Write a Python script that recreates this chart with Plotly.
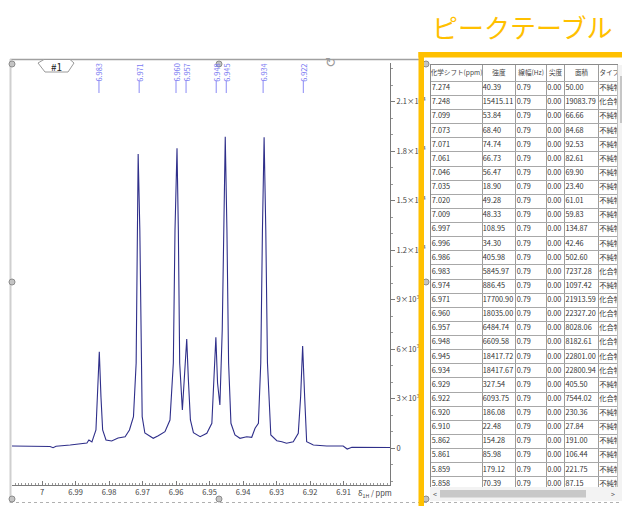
import plotly.graph_objects as go

# ---------------- data ----------------
spec_ppm = [7.0090, 7.0036, 6.9976, 6.9967, 6.9958, 6.9916, 6.9866, 6.9860, 6.9851, 6.9839,
            6.9834, 6.9829, 6.9824, 6.9819, 6.9809, 6.9792, 6.9773, 6.9752, 6.9739, 6.9727,
            6.9719, 6.9716, 6.9713, 6.9708, 6.9704, 6.9701, 6.9693, 6.9668, 6.9653, 6.9633,
            6.9618, 6.9608, 6.9603, 6.9597, 6.9593, 6.9589, 6.9581, 6.9575, 6.9568, 6.9563,
            6.9557, 6.9548, 6.9528, 6.9508, 6.9493, 6.9487, 6.9481, 6.9476, 6.9469, 6.9462,
            6.9458, 6.9453, 6.9448, 6.9443, 6.9436, 6.9424, 6.9409, 6.9389, 6.9374, 6.9364,
            6.9354, 6.9347, 6.9342, 6.9337, 6.9332, 6.9327, 6.9317, 6.9299, 6.9284, 6.9270,
            6.9250, 6.9235, 6.9228, 6.9222, 6.9216, 6.9210, 6.9190, 6.9150, 6.9101, 6.9089,
            6.9075, 6.9011, 6.8961]
spec_int = [121, 91, 91, 18, 103, 182, 303, 485, 364, 1091,
            3091, 5836, 3091, 1091, 485, 424, 606, 685, 1091, 1897,
            5151, 13211, 17816, 13211, 5151, 1897, 909, 588, 745, 988,
            1697, 5151, 13211, 18162, 13211, 5151, 2303, 4121, 6605, 4121,
            1697, 927, 685, 891, 1497, 4121, 6708, 3939, 2606, 7151,
            13211, 18865, 13211, 5151, 1497, 788, 588, 685, 648, 1194,
            1497, 5151, 13211, 18828, 13211, 5151, 788, 442, 382, 285,
            382, 891, 3109, 6181, 3109, 382, 182, 121, 121, -61,
            42, 18, 30]

peak_labels = [6.983, 6.971, 6.960, 6.957, 6.948, 6.945, 6.934, 6.922]

x_tickvals = [7.00, 6.99, 6.98, 6.97, 6.96, 6.95, 6.94, 6.93, 6.92, 6.91]
x_ticktext = ["7", "6.99", "6.98", "6.97", "6.96", "6.95", "6.94", "6.93", "6.92", "6.91"]
y_tickvals = [0, 3000, 6000, 9000, 12000, 15000, 18000, 21000]
y_ticktext = ["0", "3×10<sup>3</sup>", "6×10<sup>3</sup>", "9×10<sup>3</sup>",
              "1.2×10<sup>4</sup>", "1.5×10<sup>4</sup>", "1.8×10<sup>4</sup>", "2.1×10<sup>4</sup>"]

table_title = "ピークテーブル"
table_headers = ["化学シフト(ppm)", "強度", "線幅(Hz)", "尖度", "面積", "タイプ"]
shift_ppm = [7.274, 7.248, 7.099, 7.073, 7.071, 7.061, 7.046, 7.035, 7.020, 7.009,
             6.997, 6.996, 6.986, 6.983, 6.974, 6.971, 6.960, 6.957, 6.948, 6.945,
             6.934, 6.929, 6.922, 6.920, 6.910, 5.862, 5.861, 5.859, 5.858]
intensity = [40.39, 15415.11, 53.84, 68.40, 74.74, 66.73, 56.47, 18.90, 49.28, 48.33,
             108.95, 34.30, 405.98, 5845.97, 886.45, 17700.90, 18035.00, 6484.74, 6609.58, 18417.72,
             18417.67, 327.54, 6093.75, 186.08, 22.48, 154.28, 85.98, 179.12, 70.39]
linewidth_hz = [0.79, 0.79, 0.79, 0.79, 0.79, 0.79, 0.79, 0.79, 0.79, 0.79,
                0.79, 0.79, 0.79, 0.79, 0.79, 0.79, 0.79, 0.79, 0.79, 0.79,
                0.79, 0.79, 0.79, 0.79, 0.79, 0.79, 0.79, 0.79, 0.79]
kurtosis = [0.00, 0.00, 0.00, 0.00, 0.00, 0.00, 0.00, 0.00, 0.00, 0.00,
            0.00, 0.00, 0.00, 0.00, 0.00, 0.00, 0.00, 0.00, 0.00, 0.00,
            0.00, 0.00, 0.00, 0.00, 0.00, 0.00, 0.00, 0.00, 0.00]
area = [50.00, 19083.79, 66.66, 84.68, 92.53, 82.61, 69.90, 23.40, 61.01, 59.83,
        134.87, 42.46, 502.60, 7237.28, 1097.42, 21913.59, 22327.20, 8028.06, 8182.61, 22801.00,
        22800.94, 405.50, 7544.02, 230.36, 27.84, 191.00, 106.44, 221.75, 87.15]
peak_type = ["不純物", "化合物", "不純物", "不純物", "不純物", "不純物", "不純物", "不純物", "不純物", "不純物",
             "不純物", "不純物", "不純物", "化合物", "不純物", "化合物", "化合物", "化合物", "化合物", "化合物",
             "化合物", "不純物", "化合物", "不純物", "不純物", "不純物", "不純物", "不純物", "不純物"]

# ---------------- layout helpers ----------------
# the page body keeps its default 8px margin, so the figure starts at (8, 8) of the window
OFF = 8
W, H = 630 - OFF, 506 - OFF
FONT = "Noto Sans CJK JP"
ORANGE = "#FFC000"


def px(x):
    return (x - OFF) / W


def py(y):
    return 1 - (y - OFF) / H


fig = go.Figure()

# spectrum
fig.add_trace(go.Scatter(x=spec_ppm, y=spec_int, mode="lines",
                         line=dict(color="#2f2f8a", width=1.1),
                         hoverinfo="skip", showlegend=False, xaxis="x", yaxis="y"))

# table (text traces on dedicated axes)
col_widths = [51.3, 34.0, 30.7, 18.3, 34.0, 22.0]
col_left = [sum(col_widths[:i]) for i in range(len(col_widths))]
col_center = [col_left[i] + col_widths[i] / 2 for i in range(len(col_widths))]
rows = list(range(len(shift_ppm)))
columns = [
    [f"{v:.3f}" for v in shift_ppm],
    [f"{v:.2f}" for v in intensity],
    [f"{v:.2f}" for v in linewidth_hz],
    [f"{v:.2f}" for v in kurtosis],
    [f"{v:.2f}" for v in area],
    peak_type,
]
for j, col in enumerate(columns):
    fig.add_trace(go.Scatter(x=[col_left[j] + 0.8] * len(rows), y=rows, mode="text",
                             text=col, textposition="middle right",
                             textfont=dict(family=FONT, size=7.3, color="#333333"),
                             hoverinfo="skip", showlegend=False, cliponaxis=True,
                             xaxis="x2", yaxis="y2"))
fig.add_trace(go.Scatter(x=col_center, y=[-1.08] * len(table_headers), mode="text",
                         text=table_headers, textposition="middle center",
                         textfont=dict(family=FONT, size=6.6, color="#444444"),
                         hoverinfo="skip", showlegend=False, cliponaxis=True,
                         xaxis="x2", yaxis="y2"))

shapes = []
annotations = []


def note(x, y, text, size, color, family=FONT, xref="paper", angle=0, xanchor="center"):
    annotations.append(dict(xref=xref, yref="paper", x=x, y=y, text=text, textangle=angle,
                            showarrow=False, xanchor=xanchor, yanchor="middle",
                            font=dict(family=family, size=size, color=color)))


# peak label lines + texts
for p in peak_labels:
    shapes.append(dict(type="line", xref="x", yref="paper", x0=p, x1=p, y0=py(81), y1=py(93),
                       line=dict(color="#8a8af5", width=1)))
    note(p, py(72.5), f"{p:.3f}", 7.3, "#7b7bf2", xref="x", angle=-90)

# x axis title
note(px(356), py(493), "δ<sub>1H</sub> / ppm", 7.5, "#444444", xanchor="left")

# spectrum panel frame
shapes += [
    dict(type="line", xref="paper", yref="paper", x0=px(10), x1=px(419), y0=py(59.5), y1=py(59.5),
         line=dict(color="#a0a0a0", width=1.5)),
    dict(type="line", xref="paper", yref="paper", x0=px(10.5), x1=px(10.5), y0=py(59), y1=py(503),
         line=dict(color="#cfcfcf", width=2)),
    dict(type="line", xref="paper", yref="paper", x0=px(10), x1=px(630), y0=py(502.5), y1=py(502.5),
         line=dict(color="#b0b0b0", width=1, dash="dot")),
]
# "#1" tab
tab_pts = [(38, 63), (44, 59.5), (70, 59.5), (74, 63), (68, 72), (45, 72)]
path = "M " + " L ".join(f"{px(a)},{py(b)}" for a, b in tab_pts) + " Z"
shapes.append(dict(type="path", xref="paper", yref="paper", path=path,
                   fillcolor="white", line=dict(color="#9a9a9a", width=1)))
note(px(56), py(66), "#1", 10, "#222222")
# rotate icon
note(px(330), py(62), "↻", 13, "#9a9a9a", family="DejaVu Sans")
# selection handles
for hx in (12, 219, 426):
    for hy in (64, 282, 499):
        if hx == 219 and hy == 282:
            continue
        shapes.append(dict(type="circle", xref="paper", yref="paper",
                           x0=px(hx - 3), x1=px(hx + 3), y0=py(hy + 3), y1=py(hy - 3),
                           fillcolor="#c4c4c4", line=dict(color="#8c8c8c", width=1)))

# table scrollbars
shapes += [
    dict(type="rect", xref="paper", yref="paper", x0=px(617.5), x1=px(630), y0=py(487), y1=py(65),
         fillcolor="#f3f3f3", line=dict(width=0), layer="above"),
    dict(type="rect", xref="paper", yref="paper", x0=px(620), x1=px(628), y0=py(123), y1=py(76),
         fillcolor="#c6c6c6", line=dict(width=0), layer="above"),
    dict(type="rect", xref="paper", yref="paper", x0=px(430), x1=px(630), y0=py(501), y1=py(487),
         fillcolor="#f3f3f3", line=dict(width=0), layer="above"),
    dict(type="rect", xref="paper", yref="paper", x0=px(440), x1=px(586), y0=py(497.5), y1=py(490),
         fillcolor="#c8c8c8", line=dict(width=0), layer="above"),
]
for (ax_, ay_, t) in [(624, 70, "^"), (624, 482, "v"), (435, 494, "<"), (613, 494, ">")]:
    note(px(ax_), py(ay_), t, 7, "#555555")

# orange frame + title
shapes += [
    dict(type="rect", xref="paper", yref="paper", x0=px(418.5), x1=px(424), y0=py(506), y1=py(52),
         fillcolor=ORANGE, line=dict(width=0), layer="above"),
    dict(type="rect", xref="paper", yref="paper", x0=px(418.5), x1=px(630), y0=py(57.5), y1=py(52),
         fillcolor=ORANGE, line=dict(width=0), layer="above"),
]
note(px(522), py(26), table_title, 26, ORANGE)

# ---------------- axes ----------------
ax_font = dict(family=FONT, size=7.5, color="#444444")
fig.update_layout(
    width=W, height=H,
    margin=dict(l=0, r=0, t=0, b=0),
    paper_bgcolor="white", plot_bgcolor="white",
    showlegend=False,
    xaxis=dict(domain=[px(12), px(390)], range=[7.00896, 6.89612], anchor="y",
               showline=True, linecolor="#7a7a7a", linewidth=1,
               ticks="inside", ticklen=4, tickcolor="#7a7a7a",
               tickmode="array", tickvals=x_tickvals, ticktext=x_ticktext, tickfont=ax_font,
               minor=dict(dtick=0.001, tick0=7.0, ticks="inside", ticklen=2, tickcolor="#999999"),
               showgrid=False, zeroline=False, fixedrange=True),
    yaxis=dict(domain=[py(485), py(63)], range=[-2242, 23333], anchor="x", side="right",
               showline=True, linecolor="#7a7a7a", linewidth=1,
               ticks="outside", ticklen=4, tickcolor="#7a7a7a",
               tickmode="array", tickvals=y_tickvals, ticktext=y_ticktext, tickfont=ax_font,
               minor=dict(dtick=1000, tick0=0, ticks="outside", ticklen=2, tickcolor="#999999"),
               showgrid=False, zeroline=False, fixedrange=True),
    xaxis2=dict(domain=[px(431), px(617)], range=[0, sum(col_widths[:5]) + 18.7], anchor="y2",
                showline=True, mirror=True, linecolor="#8a8a8a", linewidth=1,
                tickmode="array", tickvals=col_left[1:], showticklabels=False, ticks="",
                showgrid=True, gridcolor="#9c9c9c", gridwidth=1, zeroline=False, fixedrange=True),
    yaxis2=dict(domain=[py(487), py(65)], range=[28.22, -1.65], anchor="x2",
                showline=True, mirror=True, linecolor="#8a8a8a", linewidth=1,
                tickmode="array", tickvals=[r - 0.5 for r in rows], showticklabels=False, ticks="",
                showgrid=True, gridcolor="#a8a8a8", gridwidth=1, zeroline=False, fixedrange=True),
    shapes=shapes,
    annotations=annotations,
)

fig.write_html("out.html")
